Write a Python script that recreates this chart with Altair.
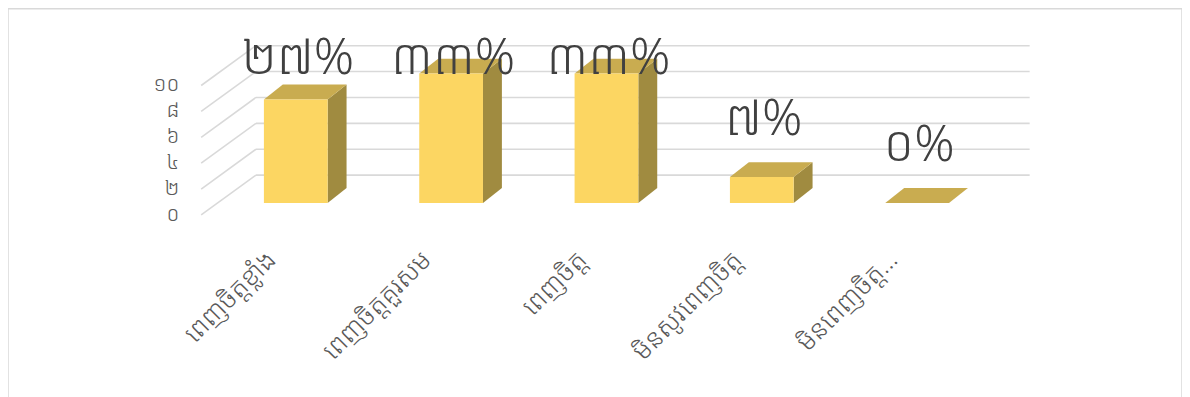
import altair as alt
import pandas as pd

# ---- data ----
categories = ["ពេញចិត្តខ្លាំង", "ពេញចិត្តគួរសម", "ពេញចិត្ត", "មិនសូវពេញចិត្ត", "មិនពេញចិត្ត…"]
counts = [8, 10, 10, 2, 0]
percent_labels = ["២៧%", "៣៣%", "៣៣%", "៧%", "០%"]
y_ticks = [0, 2, 4, 6, 8, 10]

KH_DIGITS = "០១២៣៤៥៦៧៨៩"


def kh(n):
    return "".join(KH_DIGITS[int(d)] for d in str(n))


# ---- layout constants (in scale units) ----
W, H = 1179, 395
PX_X, PX_Y = 156.0, 13.0
X_DOMAIN = [(8 - 297) / PX_X, (1187 - 297) / PX_X]
Y_DOMAIN = [(203 - 8 - H) / PX_Y, (203 - 8) / PX_Y]
HW = 32 / PX_X          # half width of front face
DX = 19 / PX_X          # depth offset x
DY = 15 / PX_Y          # depth offset y
FRONT_DY = -12 / PX_Y   # front plane of the wall
BACK_DY = 28 / PX_Y     # back wall
FRONT_X = (202 - 297) / PX_X
BACK_X = (257 - 297) / PX_X
GRID_END = (1034 - 297) / PX_X
LABEL_CAP = 6.77
LABEL_LIFT = 42 / PX_Y
CAT_Y = (203 - 256) / PX_Y
CAT_DX = -24 / PX_X
TICK_X = (180 - 297) / PX_X

KFONT = "Khmer OS Siemreap, Khmer OS, Noto Sans Khmer, Noto Serif Khmer, Hanuman, Battambang, sans-serif"

FRONT = "#FCD662"
TOP = "#C9AC50"
SIDE = "#A08B40"
GRID = "#D9D9D9"
TXT = "#404040"
AX = "#595959"

bars = pd.DataFrame({
    "i": list(range(len(categories))),
    "cat": categories,
    "v": counts,
    "label": percent_labels,
})
bars["x1"] = bars["i"] - HW
bars["x2"] = bars["i"] + HW
bars["base"] = 0.0
bars["label_y"] = bars["v"].clip(upper=LABEL_CAP) + LABEL_LIFT
bars["cat_x"] = bars["i"] + CAT_DX
bars["cat_y"] = CAT_Y

side_rows, top_rows = [], []
for i, v in zip(bars["i"], bars["v"]):
    xl, xr = i - HW, i + HW
    side_rows.append({"i": i, "x": xr, "y": v, "y2": 0})
    side_rows.append({"i": i, "x": xr + DX, "y": v + DY, "y2": DY})
    top_rows.append({"i": i, "x": xl, "y": v, "y2": v})
    top_rows.append({"i": i, "x": xl + DX, "y": v + DY, "y2": v})
    top_rows.append({"i": i, "x": xr, "y": v + DY, "y2": v})
    top_rows.append({"i": i, "x": xr + DX, "y": v + DY, "y2": v + DY})
side = pd.DataFrame(side_rows)
top = pd.DataFrame(top_rows)

grid = pd.DataFrame({"t": y_ticks})
grid["gx"] = BACK_X
grid["gx2"] = GRID_END
grid["gy"] = grid["t"] + BACK_DY
grid["fx"] = FRONT_X
grid["fy"] = grid["t"] + FRONT_DY
grid["lx"] = TICK_X
grid["lab"] = [kh(t) for t in y_ticks]

xs = alt.Scale(domain=X_DOMAIN, nice=False, zero=False)
ys = alt.Scale(domain=Y_DOMAIN, nice=False, zero=False)

back_grid = alt.Chart(grid).mark_rule(color=GRID, strokeWidth=1.6).encode(
    x=alt.X("gx:Q", scale=xs, axis=None), x2="gx2:Q",
    y=alt.Y("gy:Q", scale=ys, axis=None),
)
wall = alt.Chart(grid).mark_rule(color=GRID, strokeWidth=1.6).encode(
    x=alt.X("fx:Q", scale=xs, axis=None), x2="gx:Q",
    y=alt.Y("fy:Q", scale=ys, axis=None), y2="gy:Q",
)
side_faces = alt.Chart(side).mark_area(color=SIDE, opacity=1).encode(
    x=alt.X("x:Q", scale=xs, axis=None),
    y=alt.Y("y:Q", scale=ys, axis=None), y2="y2:Q",
    detail="i:N",
)
top_faces = alt.Chart(top).mark_area(color=TOP, opacity=1).encode(
    x=alt.X("x:Q", scale=xs, axis=None),
    y=alt.Y("y:Q", scale=ys, axis=None), y2="y2:Q",
    detail="i:N",
)
front_faces = alt.Chart(bars).mark_rect(color=FRONT).encode(
    x=alt.X("x1:Q", scale=xs, axis=None), x2="x2:Q",
    y=alt.Y("v:Q", scale=ys, axis=None), y2="base:Q",
)
value_labels = alt.Chart(bars).mark_text(
    font=KFONT, fontSize=50, fontWeight=300, color=TXT,
    baseline="alphabetic", align="center", dx=2
).encode(
    x=alt.X("i:Q", scale=xs, axis=None),
    y=alt.Y("label_y:Q", scale=ys, axis=None),
    text="label:N",
)
cat_labels = alt.Chart(bars).mark_text(
    font=KFONT, fontSize=26, fontWeight=300, color=AX,
    baseline="middle", align="right", angle=315
).encode(
    x=alt.X("cat_x:Q", scale=xs, axis=None),
    y=alt.Y("cat_y:Q", scale=ys, axis=None),
    text="cat:N",
)
tick_labels = alt.Chart(grid).mark_text(
    font=KFONT, fontSize=21, fontWeight=300, color=AX,
    baseline="middle", align="right"
).encode(
    x=alt.X("lx:Q", scale=xs, axis=None),
    y=alt.Y("fy:Q", scale=ys, axis=None),
    text="lab:N",
)

chart = alt.layer(
    back_grid, wall, side_faces, top_faces, front_faces,
    value_labels, cat_labels, tick_labels,
).properties(
    width=W, height=H, autosize=alt.AutoSizeParams(type="none"), padding=0,
).configure_view(stroke="#D9D9D9", strokeWidth=1.5)

chart.save("out.html", embed_options={"renderer": "svg", "actions": False})
